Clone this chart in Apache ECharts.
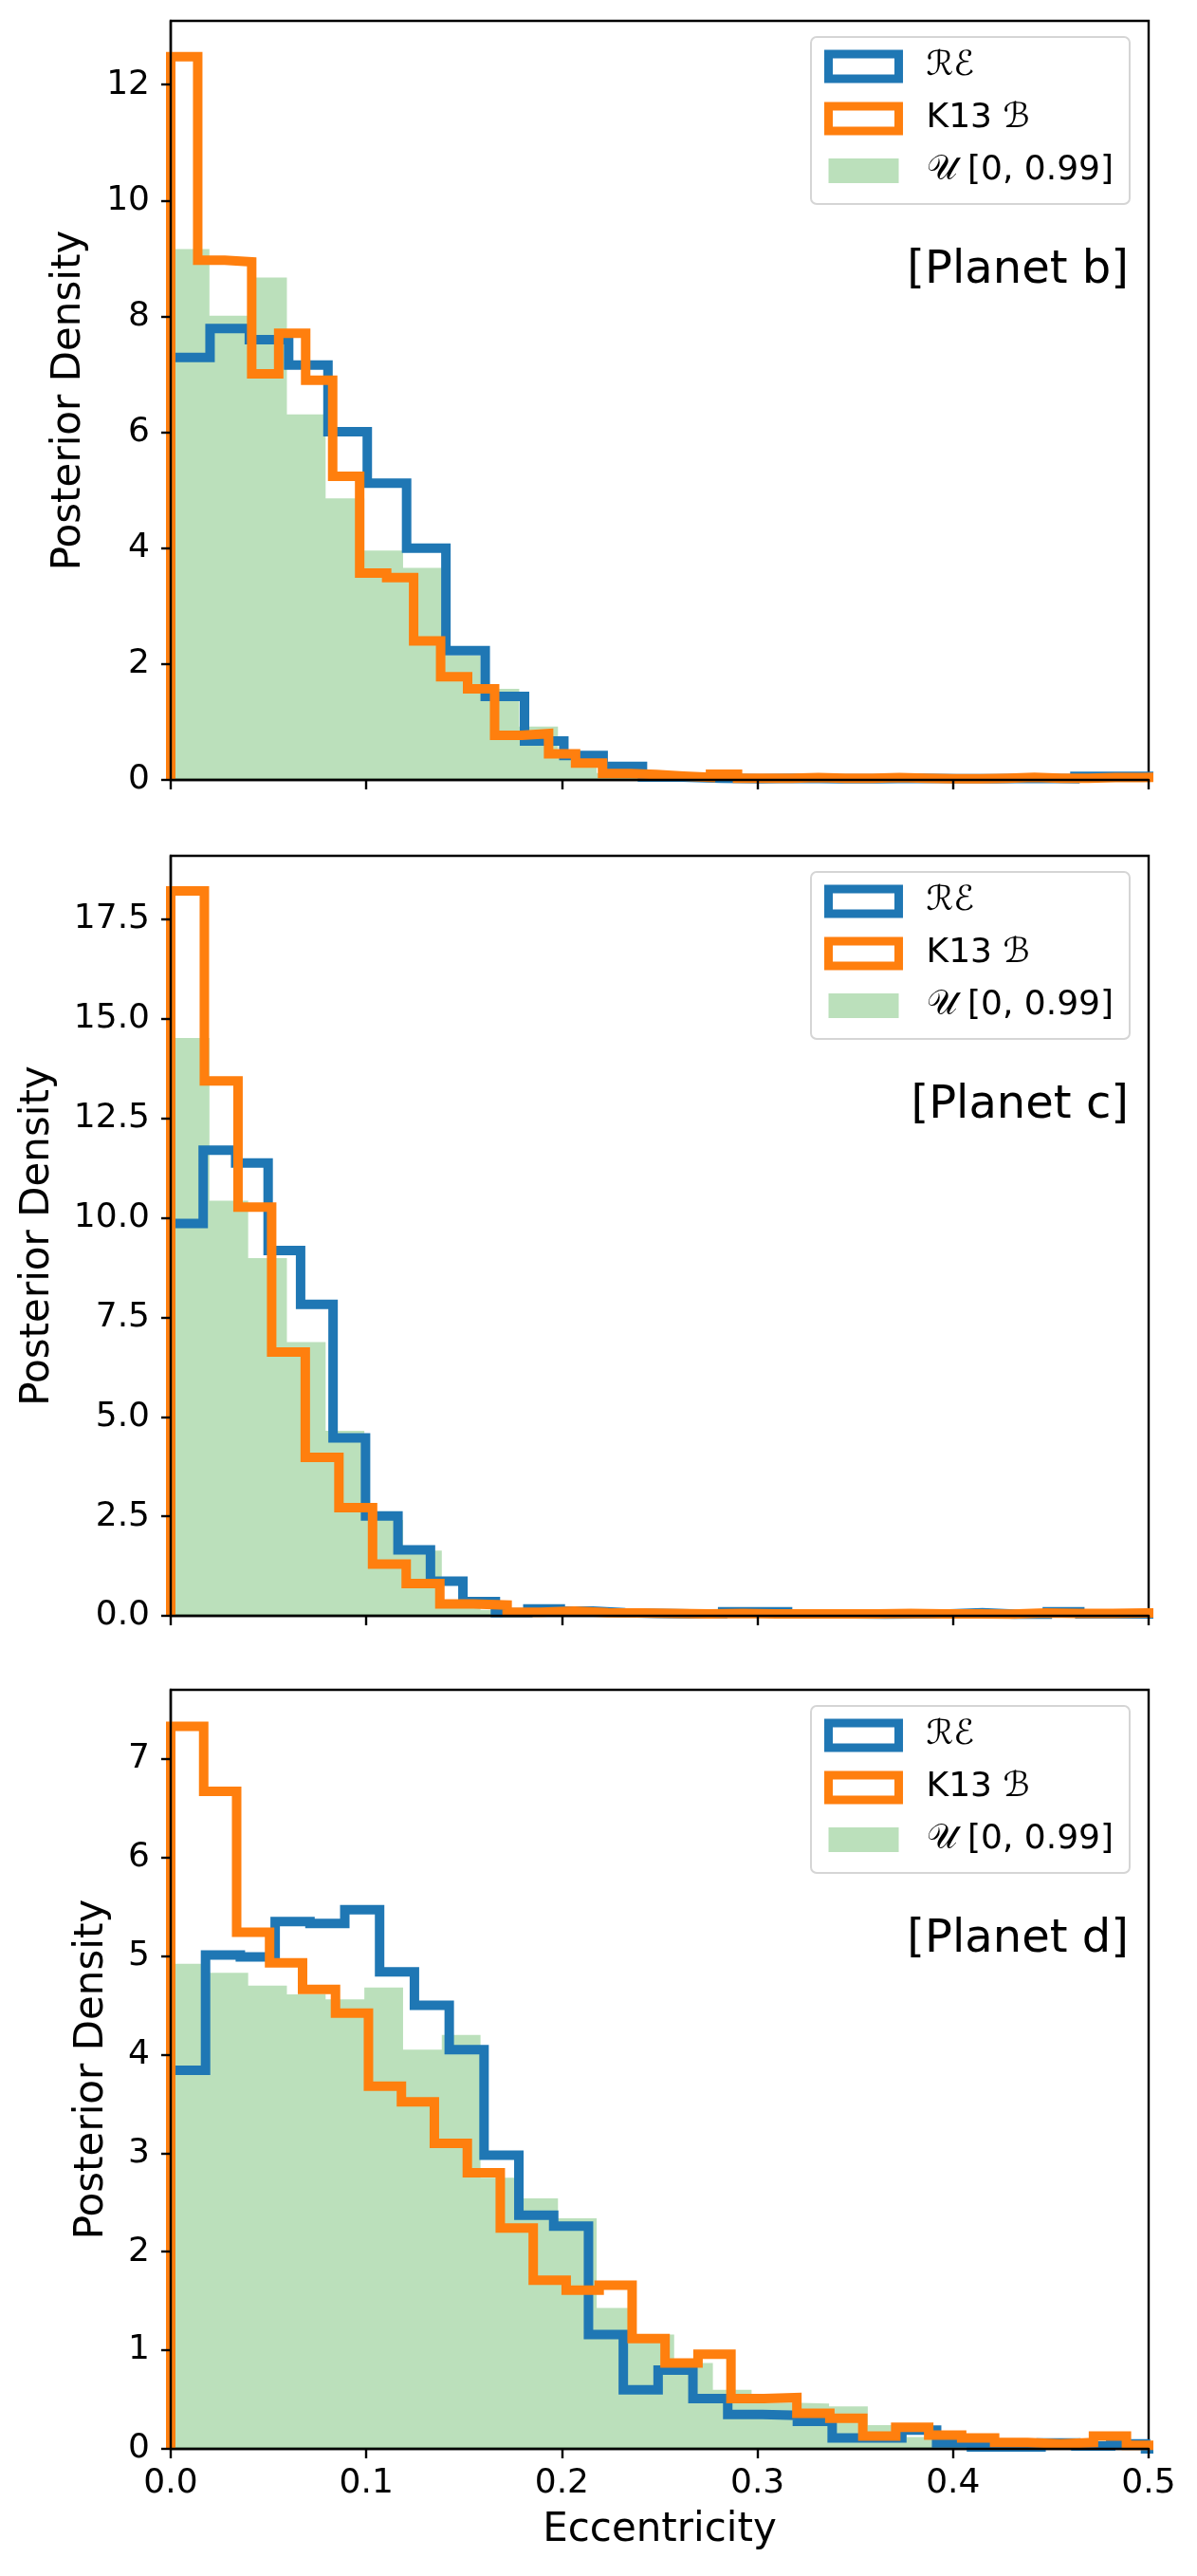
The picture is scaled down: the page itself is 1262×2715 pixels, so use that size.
<!DOCTYPE html>
<html lang="en">
<head>
<meta charset="utf-8">
<title>Eccentricity posterior densities</title>
<script src="https://cdn.jsdelivr.net/npm/echarts@6/dist/echarts.min.js"></script>
<style>
    html, body { margin: 0; padding: 0; background: #fff; }
    #main { width: 1262px; height: 2715px; }
</style>
</head>
<body>
<div id="main"></div>
<script>
    // shared labels
    var xTicks = [0, 0.1, 0.2, 0.3, 0.4, 0.5];
    var legendNames = ['ℛℰ', 'K13 ℬ', '𝒰 [0, 0.99]'];
    var planetLabels = ['[Planet b]', '[Planet c]', '[Planet d]'];

    // green prior histogram: 50 bins over [0, 0.99]
    var greenWidth = 0.0198;

    // planet b
    var bYTicks = [0, 2, 4, 6, 8, 10, 12];
    var bYMax = 13.1;
    var bBlueWidth = 0.0201;
    var bBlue = [7.29, 7.79, 7.60, 7.16, 6.01, 5.12, 4.00, 2.23, 1.44, 0.67, 0.42, 0.235, 0.05,
                 0.03, 0.02, 0.03, 0.02, 0.02, 0.03, 0.02, 0.02, 0.03, 0.02, 0.06, 0.06];
    var bOrangeWidth = 0.0138;
    var bOrange = [12.48, 8.97, 8.94, 7.01, 7.71, 6.90, 5.24, 3.57, 3.49, 2.40, 1.78, 1.57, 0.77,
                   0.80, 0.45, 0.29, 0.11, 0.095, 0.065, 0.045, 0.10, 0.03, 0.03, 0.04, 0.03, 0.03,
                   0.04, 0.03, 0.02, 0.02, 0.03, 0.045, 0.03, 0.03, 0.04, 0.04, 0.05];
    var bGreen = [9.16, 8.01, 8.67, 6.31, 4.86, 3.96, 3.66, 2.15, 1.57, 0.92, 0.38, 0.12, 0.05,
                  0.03, 0.02, 0.02, 0.01, 0.01, 0.01, 0.01, 0.01, 0.01, 0.01, 0.01, 0.01, 0.01];

    // planet c
    var cYTicks = [0, 2.5, 5, 7.5, 10, 12.5, 15, 17.5];
    var cYMax = 19.1;
    var cBlueWidth = 0.0166;
    var cBlue = [9.86, 11.70, 11.38, 9.18, 7.83, 4.47, 2.51, 1.66, 0.87, 0.36, 0.08, 0.17, 0.12,
                 0.08, 0.06, 0.05, 0.05, 0.10, 0.10, 0.05, 0.05, 0.04, 0.05, 0.05, 0.08, 0.04,
                 0.04, 0.10, 0.05, 0.05, 0.04];
    var cOrangeWidth = 0.0172;
    var cOrange = [18.22, 13.44, 10.27, 6.63, 3.98, 2.72, 1.30, 0.81, 0.30, 0.27, 0.09, 0.12, 0.08,
                   0.07, 0.06, 0.05, 0.06, 0.05, 0.05, 0.05, 0.05, 0.06, 0.05, 0.05, 0.04, 0.07,
                   0.06, 0.06, 0.07, 0.07];
    var cGreen = [14.52, 10.43, 8.99, 6.88, 4.65, 2.41, 1.64, 0.40, 0.15, 0.05, 0.03, 0.02, 0.02,
                  0.01, 0.01, 0.01, 0.01, 0.01, 0.01, 0.01, 0.01, 0.01, 0.01, 0.01, 0.01, 0.01];

    // planet d
    var dYTicks = [0, 1, 2, 3, 4, 5, 6, 7];
    var dYMax = 7.7;
    var dBlueWidth = 0.0178;
    var dBlue = [3.84, 5.01, 4.99, 5.35, 5.33, 5.47, 4.84, 4.50, 4.05, 2.98, 2.37, 2.26, 1.16,
                 0.60, 0.80, 0.51, 0.35, 0.34, 0.28, 0.11, 0.11, 0.19, 0.06, 0.02, 0.02, 0.06,
                 0.03, 0.05, 0.0];
    var dOrangeWidth = 0.01685;
    var dOrange = [7.33, 6.67, 5.24, 4.93, 4.66, 4.42, 3.68, 3.52, 3.10, 2.80, 2.24, 1.71, 1.61,
                   1.66, 1.12, 0.87, 0.96, 0.51, 0.52, 0.36, 0.31, 0.13, 0.22, 0.14, 0.11, 0.064,
                   0.05, 0.064, 0.13, 0.035];
    var dGreen = [4.92, 4.83, 4.70, 4.61, 4.56, 4.68, 4.05, 4.20, 2.75, 2.54, 2.34, 1.43, 1.16,
                  0.87, 0.60, 0.47, 0.46, 0.43, 0.24, 0.12, 0.07, 0.03, 0.03, 0.02, 0.02, 0.01];

    var panels = [
        { yTicks: bYTicks, yMax: bYMax, blue: [bBlueWidth, bBlue], orange: [bOrangeWidth, bOrange], green: bGreen, digits: 0 },
        { yTicks: cYTicks, yMax: cYMax, blue: [cBlueWidth, cBlue], orange: [cOrangeWidth, cOrange], green: cGreen, digits: 1 },
        { yTicks: dYTicks, yMax: dYMax, blue: [dBlueWidth, dBlue], orange: [dOrangeWidth, dOrange], green: dGreen, digits: 0 }
    ];

    var BLUE = '#1f77b4', ORANGE = '#ff7f0e', GREEN_FILL = 'rgba(44,160,44,0.32)';
    var gridTops = [22, 902, 1781];
    var gridHeights = [800, 801, 800];
    var yNameGaps = [86, 119, 62];

    // histogram outline points (bin edges start at 0), drawn as an 'end' step line
    function histPoints(width, values) {
        var pts = [[0, 0]];
        values.forEach(function (v, i) { pts.push([i * width, v]); });
        var last = values.length * width;
        pts.push([last, values[values.length - 1]]);
        pts.push([last, 0]);
        return pts;
    }

    var grids = [], xAxes = [], yAxes = [], series = [], legends = [], titles = [];

    panels.forEach(function (p, i) {
        var bottom = i === panels.length - 1;
        grids.push({
            left: 180, top: gridTops[i], width: 1031, height: gridHeights[i],
            show: true, borderColor: '#000', borderWidth: 2.4
        });
        xAxes.push({
            type: 'value', gridIndex: i, min: 0, max: 0.5, interval: 0.1, z: 10,
            axisLine: { show: true, onZero: false, lineStyle: { color: '#000', width: 2.4 } },
            axisTick: { show: true, inside: false, length: 10, lineStyle: { color: '#000', width: 2.4 } },
            axisLabel: {
                show: bottom, fontSize: 36, color: '#000', margin: 19,
                formatter: function (v) { return v.toFixed(1); }
            },
            splitLine: { show: false },
            name: bottom ? 'Eccentricity' : '',
            nameLocation: 'middle', nameGap: 65,
            nameTextStyle: { fontSize: 42, color: '#000' }
        });
        yAxes.push({
            type: 'value', gridIndex: i, min: 0, max: p.yMax, z: 10,
            axisLine: { show: true, onZero: false, lineStyle: { color: '#000', width: 2.4 } },
            axisTick: { show: true, inside: false, length: 10, customValues: p.yTicks,
                        lineStyle: { color: '#000', width: 2.4 } },
            axisLabel: {
                customValues: p.yTicks, fontSize: 36, color: '#000', margin: 22,
                formatter: (function (d) { return function (v) { return v.toFixed(d); }; })(p.digits)
            },
            splitLine: { show: false },
            name: 'Posterior Density', nameLocation: 'middle', nameGap: yNameGaps[i],
            nameTextStyle: { fontSize: 42, color: '#000' }
        });
        series.push({
            name: legendNames[2], type: 'line', step: 'end', xAxisIndex: i, yAxisIndex: i,
            data: histPoints(greenWidth, p.green), symbol: 'none', z: 1,
            itemStyle: { color: GREEN_FILL },
            lineStyle: { width: 0, opacity: 0 },
            areaStyle: { color: GREEN_FILL, opacity: 1 }
        });
        series.push({
            name: legendNames[0], type: 'line', step: 'end', xAxisIndex: i, yAxisIndex: i,
            data: histPoints(p.blue[0], p.blue[1]), symbol: 'none', z: 2,
            itemStyle: { color: BLUE },
            lineStyle: { width: 10, color: BLUE, join: 'miter', cap: 'butt' }
        });
        series.push({
            name: legendNames[1], type: 'line', step: 'end', xAxisIndex: i, yAxisIndex: i,
            data: histPoints(p.orange[0], p.orange[1]), symbol: 'none', z: 3,
            itemStyle: { color: ORANGE },
            lineStyle: { width: 10, color: ORANGE, join: 'miter', cap: 'butt' }
        });
        legends.push({
            orient: 'vertical', right: 71, top: gridTops[i] + 17, align: 'left',
            itemWidth: 74, itemHeight: 26, itemGap: 13,
            padding: [10, 17, 14, 14],
            borderColor: '#d5d5d5', borderWidth: 2, borderRadius: 6,
            backgroundColor: 'rgba(255,255,255,0.8)',
            selectedMode: false,
            textStyle: { fontSize: 36, color: '#000', lineHeight: 42, padding: [0, 0, 0, 24] },
            data: [
                { name: legendNames[0], icon: 'rect', itemStyle: { color: '#fff', borderColor: BLUE, borderWidth: 9 } },
                { name: legendNames[1], icon: 'rect', itemStyle: { color: '#fff', borderColor: ORANGE, borderWidth: 9 } },
                { name: legendNames[2], icon: 'rect', itemStyle: { color: GREEN_FILL, borderWidth: 0 } }
            ]
        });
        titles.push({
            text: planetLabels[i], right: 72, top: gridTops[i] + 240, padding: 0,
            textStyle: { fontSize: 48, fontWeight: 'normal', color: '#000' }
        });
    });

    var chart = echarts.init(document.getElementById('main'));
    chart.setOption({
        animation: false,
        backgroundColor: '#fff',
        textStyle: { fontFamily: 'DejaVu Sans' },
        title: titles,
        legend: legends,
        grid: grids,
        xAxis: xAxes,
        yAxis: yAxes,
        series: series
    });
</script>
</body>
</html>
